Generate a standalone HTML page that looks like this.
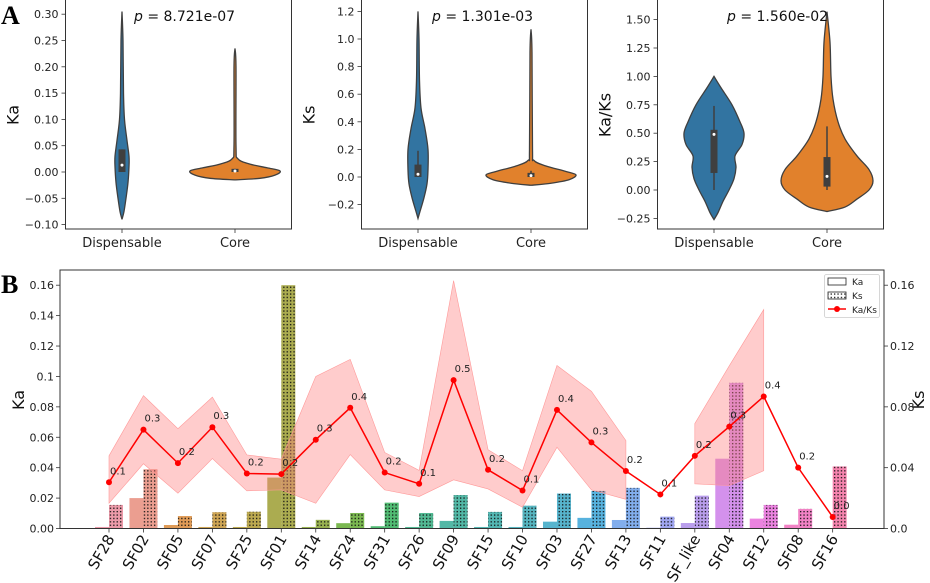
<!DOCTYPE html>
<html><head><meta charset="utf-8"><style>
body{margin:0;background:#fff;}
svg{display:block;font-family:"DejaVu Sans","Liberation Sans",sans-serif;}
</style></head><body>
<svg id="fig" width="930" height="583" viewBox="0 0 930 583">
<defs>
<pattern id="dots" width="3.4" height="3.4" patternUnits="userSpaceOnUse">
<rect x="1" y="1" width="1.3" height="1.3" fill="#111"/>
</pattern>
</defs>
<text x="1" y="24" font-family="Liberation Serif,serif" font-weight="bold" font-size="26">A</text>
<text x="1" y="293" font-family="Liberation Serif,serif" font-weight="bold" font-size="26">B</text>
<g id="violins"></g>
<g id="panelB"></g>
</svg>
<script>
// ---------- Panel B data ----------
const categories=["SF28","SF02","SF05","SF07","SF25","SF01","SF14","SF24","SF31","SF26","SF09","SF15","SF10","SF03","SF27","SF13","SF11","SF_like","SF04","SF12","SF08","SF16"];
const kaValues=[0.001,0.020,0.0023,0.001,0.001,0.0335,0.001,0.0035,0.0015,0.001,0.005,0.001,0.001,0.0045,0.007,0.0056,0.0005,0.0036,0.0459,0.0065,0.0025,0.0003];
const ksValues=[0.0155,0.039,0.0082,0.0107,0.011,0.160,0.0057,0.0102,0.017,0.0102,0.022,0.0109,0.015,0.023,0.0247,0.0267,0.0078,0.0216,0.0958,0.0155,0.0129,0.0408];
const ratioValues=[0.152,0.325,0.215,0.333,0.181,0.179,0.292,0.397,0.184,0.147,0.488,0.193,0.125,0.39,0.283,0.189,0.112,0.239,0.335,0.434,0.2,0.038];
const ratioLabels=["0.1","0.3","0.2","0.3","0.2","0.2","0.3","0.4","0.2","0.1","0.5","0.2","0.1","0.4","0.3","0.2","0.1","0.2","0.3","0.4","0.2","0.0"];
const ratioUpper=[0.239,0.437,0.328,0.432,0.242,0.228,0.5,0.556,0.25,0.191,0.815,0.259,0.19,0.536,0.451,0.289,null,0.345,0.535,0.72,null,null];
const ratioLower=[0.083,0.213,0.116,0.23,0.124,0.127,0.083,0.243,0.127,0.105,0.16,0.13,0.07,0.267,0.127,0.096,null,0.147,0.141,0.19,null,null];
const kaTicks=[0,0.02,0.04,0.06,0.08,0.1,0.12,0.14,0.16];
const kaTickLabels=["0.00","0.02","0.04","0.06","0.08","0.1","0.12","0.14","0.16"];
const ksTicks=[0,0.04,0.08,0.12,0.16];
const ksTickLabels=["0.0","0.04","0.08","0.12","0.16"];
const barColors=["#e8889a","#e88d7c","#d9893a","#c69536","#b09a31","#9c9e31","#86a331","#64ab32","#33b05a","#34ad80","#35ab96","#36aaa6","#38a8b5","#39a7c4","#3aa4d8","#6ca0ea","#8f97ed","#ad8de9","#cc7ee9","#e86ddb","#f06cbb","#f36fa0"];

// ---------- Panel A data ----------
const violinPanels=[{name:"ka",label:"Ka",p:"8.721e-07"},{name:"ks",label:"Ks",p:"1.301e-03"},{name:"kaks",label:"Ka/Ks",p:"1.560e-02"}];
const groups=["Dispensable","Core"];
const kaTicksA=[-0.10,-0.05,0,0.05,0.10,0.15,0.20,0.25,0.30];
const kaTickLabelsA=["\u22120.10","\u22120.05","0.00","0.05","0.10","0.15","0.20","0.25","0.30"];
const ksTicksA=[-0.2,0,0.2,0.4,0.6,0.8,1.0,1.2];
const ksTickLabelsA=["\u22120.2","0.0","0.2","0.4","0.6","0.8","1.0","1.2"];
const kaksTicksA=[-0.25,0,0.25,0.5,0.75,1.0,1.25,1.5];
const kaksTickLabelsA=["\u22120.25","0.00","0.25","0.50","0.75","1.00","1.25","1.50"];
const kaDispProfile=[[0.305,0],[0.25,1],[0.15,1.5],[0.10,2.5],[0.06,5],[0.03,7],[0.01,7],[-0.02,6],[-0.05,4],[-0.075,2],[-0.09,0]];
const kaCoreProfile=[[0.235,0],[0.2,1],[0.05,1],[0.025,3],[0.015,15],[0.008,32],[0.002,45],[-0.006,40],[-0.012,25],[-0.015,0]];
const ksDispProfile=[[1.2,0],[1.0,1],[0.7,1.5],[0.5,3],[0.35,7],[0.2,10],[0.05,10],[-0.05,9],[-0.15,6],[-0.25,2],[-0.3,0]];
const ksCoreProfile=[[1.07,0],[0.9,1],[0.2,1.5],[0.12,3],[0.08,15],[0.04,35],[0.015,45],[-0.02,38],[-0.045,20],[-0.06,0]];
const kaksDispProfile=[[1.0,0],[0.9,7],[0.75,18],[0.6,26],[0.5,30],[0.4,28],[0.3,21],[0.2,22],[0.1,20],[0.0,15],[-0.1,9],[-0.2,4],[-0.26,0]];
const kaksCoreProfile=[[1.57,0],[1.3,3],[1.0,4],[0.8,6],[0.6,11],[0.45,18],[0.3,30],[0.18,42],[0.08,46],[0.0,42],[-0.08,30],[-0.15,18],[-0.19,0]];
const kaBoxes=[[-0.0,0.0,0.013,0.043,0.043],[0,0.0,0.002,0.006,0.006]];
const ksBoxes=[[0,0,0.02,0.09,0.19],[0,0,0.01,0.03,0.045]];
const kaksBoxes=[[0,0.15,0.49,0.53,0.74],[0,0.03,0.12,0.29,0.56]];

const NS="http://www.w3.org/2000/svg";
function mk(tag,attrs,parent){const e=document.createElementNS(NS,tag);for(const k in attrs)e.setAttribute(k,attrs[k]);parent.appendChild(e);return e;}

function smoothPath(pts){
  let d="M"+pts[0][0]+","+pts[0][1];
  for(let i=0;i<pts.length-1;i++){
    const p0=pts[i-1]||pts[i],p1=pts[i],p2=pts[i+1],p3=pts[i+2]||p2;
    const c1=[p1[0]+(p2[0]-p0[0])/6,p1[1]+(p2[1]-p0[1])/6];
    const c2=[p2[0]-(p3[0]-p1[0])/6,p2[1]-(p3[1]-p1[1])/6];
    d+=` C${c1[0]},${c1[1]} ${c2[0]},${c2[1]} ${p2[0]},${p2[1]}`;
  }
  return d;
}

(function(){
  const root=document.getElementById('violins');
  const cfg=[
    {left:65.5,ticks:kaTicksA,labels:kaTickLabelsA,v0:0,y0:172,pxPer:526,prof:[kaDispProfile,kaCoreProfile],box:kaBoxes,pX:134},
    {left:361.5,ticks:ksTicksA,labels:ksTickLabelsA,v0:0,y0:177,pxPer:138,prof:[ksDispProfile,ksCoreProfile],box:ksBoxes,pX:432},
    {left:657.5,ticks:kaksTicksA,labels:kaksTickLabelsA,v0:0,y0:190,pxPer:113.6,prof:[kaksDispProfile,kaksCoreProfile],box:kaksBoxes,pX:727}
  ];
  const W=226,H=229,colors=["#3274a1","#e1812c"];
  cfg.forEach((c,pi)=>{
    const g=mk('g',{},root);
    
    
    const y=v=>c.y0-v*c.pxPer;
    const xs=[c.left+W*0.25,c.left+W*0.75];
    c.ticks.forEach((t,i)=>{
      mk('line',{x1:c.left-4,x2:c.left,y1:y(t),y2:y(t),stroke:'#333','stroke-width':0.8},g);
      const tx=mk('text',{x:c.left-7,y:y(t)+4,'text-anchor':'end','font-size':11,fill:'#222'},g);
      tx.textContent=c.labels[i];
      
      
    });
    groups.forEach((gr,gi)=>{
      const prof=c.prof[gi];
      const right=prof.map(p=>[xs[gi]+p[1],y(p[0])]);
      const left=prof.slice().reverse().map(p=>[xs[gi]-p[1],y(p[0])]);
      const d=smoothPath(right)+" L"+smoothPath(left).slice(1)+" Z";
      const v=mk('path',{d:d,fill:colors[gi],stroke:'#3f3f3f','stroke-width':1.3},g);
      
      
      const b=c.box[gi];
      mk('line',{x1:xs[gi],x2:xs[gi],y1:y(b[0]),y2:y(b[4]),stroke:'#3f3f3f','stroke-width':1.5},g);
      mk('rect',{x:xs[gi]-3.5,y:y(b[3]),width:7,height:Math.max(1,y(b[1])-y(b[3])),fill:'#3f3f3f'},g);
      mk('circle',{cx:xs[gi],cy:y(b[2]),r:1.5,fill:'#fff'},g);
      mk('line',{x1:xs[gi],x2:xs[gi],y1:H,y2:H+4,stroke:'#333','stroke-width':0.8},g);
      const lt=mk('text',{x:xs[gi],y:H+18,'text-anchor':'middle','font-size':13,fill:'#222'},g);
      lt.textContent=gr;
      
      
    });
    mk('rect',{x:c.left,y:-1,width:W,height:H+1,fill:'none',stroke:'#333','stroke-width':1},g);
    const yl=mk('text',{x:0,y:0,transform:`translate(${c.left-47},${115}) rotate(-90)`,'text-anchor':'middle','font-size':16,fill:'#111'},g);
    yl.textContent=violinPanels[pi].label;
    
    
    const pt=mk('text',{x:c.pX,y:21,'font-size':14,fill:'#111'},g);
    pt.innerHTML='<tspan font-style="italic">p</tspan> = '+violinPanels[pi].p;
    
    
  });
})();

(function(){
  const g=document.getElementById('panelB');
  const L=60,R=884,T=270,B=528.5;
  const yMax=0.17;
  const ya=v=>B-v/yMax*(B-T);
  const yr=r=>ya(r*0.2);
  const x0=109,step=34.46;
  const xc=i=>x0+i*step;
  const bw=14;
  categories.forEach((c,i)=>{
    const ka=mk('rect',{x:xc(i)-bw,y:ya(kaValues[i]),width:bw,height:B-ya(kaValues[i]),fill:barColors[i],'fill-opacity':0.85},g);
    
    
    const ks=mk('rect',{x:xc(i),y:ya(ksValues[i]),width:bw,height:B-ya(ksValues[i]),fill:barColors[i],'fill-opacity':0.85},g);
    
    
    mk('rect',{x:xc(i),y:ya(ksValues[i]),width:bw,height:B-ya(ksValues[i]),fill:'url(#dots)'},g);
  });
  let seg=[];
  const segs=[];
  categories.forEach((c,i)=>{
    if(ratioUpper[i]==null){if(seg.length)segs.push(seg);seg=[];}
    else seg.push(i);
  });
  if(seg.length)segs.push(seg);
  segs.forEach(s=>{
    if(s.length<2)return;
    let d="M"+s.map(i=>xc(i)+","+yr(ratioUpper[i])).join(" L");
    d+=" L"+s.slice().reverse().map(i=>xc(i)+","+yr(ratioLower[i])).join(" L")+" Z";
    const band=mk('path',{d:d,fill:'#ff8080','fill-opacity':0.4,stroke:'#ff9999','stroke-width':0.6},g);
    
    
  });
  const ln=mk('polyline',{points:categories.map((c,i)=>xc(i)+","+yr(ratioValues[i])).join(" "),fill:'none',stroke:'#f00','stroke-width':1.5},g);
  
  
  categories.forEach((c,i)=>{
    const p=mk('circle',{cx:xc(i),cy:yr(ratioValues[i]),r:3,fill:'#f00'},g);
    
    
    const t=mk('text',{x:xc(i)+1,y:yr(ratioValues[i])-8,'font-size':10,fill:'#222'},g);
    t.textContent=ratioLabels[i];
    
    
    mk('line',{x1:xc(i),x2:xc(i),y1:B,y2:B+4,stroke:'#333','stroke-width':0.8},g);
    const xl=mk('text',{x:0,y:0,transform:`translate(${xc(i)+6},${B+10}) rotate(-60)`,'text-anchor':'end','font-size':15,fill:'#111'},g);
    xl.textContent=c;
    
    
  });
  mk('rect',{x:L,y:T,width:R-L,height:B-T,fill:'none',stroke:'#333','stroke-width':1},g);
  kaTicks.forEach((t,i)=>{
    mk('line',{x1:L-4,x2:L,y1:ya(t),y2:ya(t),stroke:'#333','stroke-width':0.8},g);
    const tx=mk('text',{x:L-6,y:ya(t)+4,'text-anchor':'end','font-size':11,fill:'#222'},g);
    tx.textContent=kaTickLabels[i];
    
    
  });
  ksTicks.forEach((t,i)=>{
    mk('line',{x1:R,x2:R+4,y1:ya(t),y2:ya(t),stroke:'#333','stroke-width':0.8},g);
    const tx=mk('text',{x:R+6,y:ya(t)+4,'text-anchor':'start','font-size':11,fill:'#222'},g);
    tx.textContent=ksTickLabels[i];
    
    
  });
  const kl=mk('text',{x:0,y:0,transform:`translate(24,400) rotate(-90)`,'text-anchor':'middle','font-size':16,fill:'#111'},g);
  kl.textContent='Ka';
  
  
  const sl=mk('text',{x:0,y:0,transform:`translate(924,400) rotate(-90)`,'text-anchor':'middle','font-size':16,fill:'#111'},g);
  sl.textContent='Ks';
  
  
  const lg=mk('g',{},g);
  
  
  mk('rect',{x:824.5,y:274.5,width:55,height:43,fill:'#fff',stroke:'#ccc','stroke-width':0.8,rx:2},lg);
  mk('rect',{x:828,y:278,width:18,height:7,fill:'#fff',stroke:'#222','stroke-width':0.8},lg);
  mk('rect',{x:828,y:292,width:18,height:7,fill:'#fff',stroke:'#222','stroke-width':0.8},lg);
  mk('rect',{x:828,y:292,width:18,height:7,fill:'url(#dots)'},lg);
  mk('line',{x1:828,x2:846,y1:309,y2:309,stroke:'#f00','stroke-width':1.5},lg);
  mk('circle',{cx:837,cy:309,r:3,fill:'#f00'},lg);
  [["Ka",285],["Ks",299],["Ka/Ks",313]].forEach(e=>{
    const t=mk('text',{x:852,y:e[1],'font-size':9,fill:'#222'},lg);
    t.textContent=e[0];
    
    
  });
})();
</script>
</body></html>
